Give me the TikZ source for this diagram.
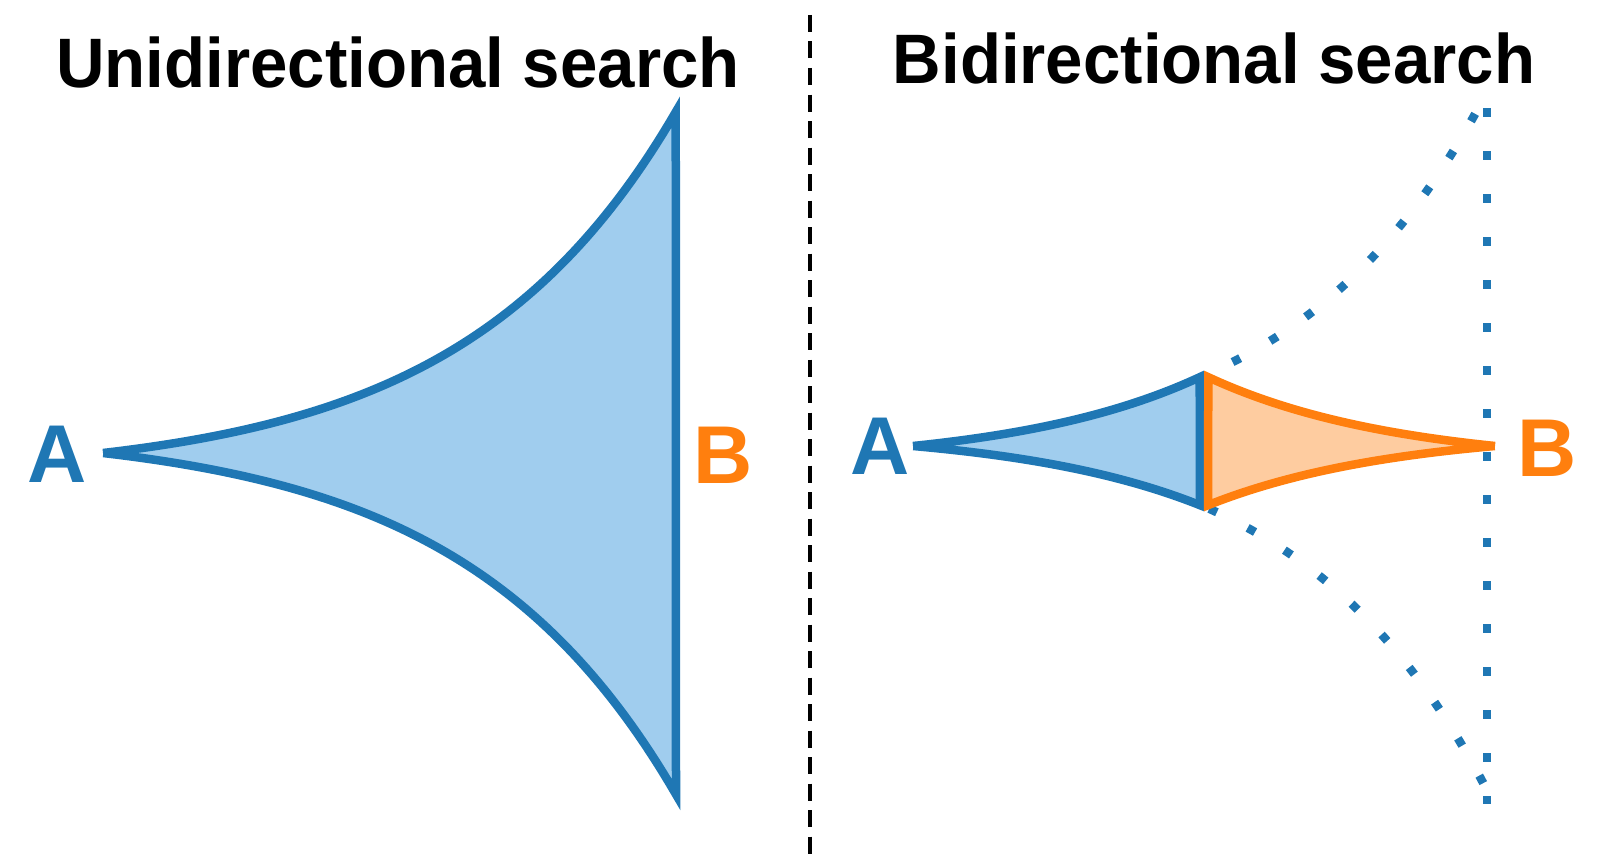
\documentclass[tikz,border=0pt]{standalone}
\usepackage{fontspec}
\setmainfont{Liberation Sans}
\usepackage{graphicx}
\definecolor{tblue}{HTML}{1F77B4}
\definecolor{lblue}{HTML}{A0CDEE}
\definecolor{torange}{HTML}{FF7F0E}
\definecolor{lorange}{HTML}{FECCA0}
\begin{document}
\begin{tikzpicture}[x=1pt,y=-1pt,
  titletext/.style={font=\fontsize{70}{84}\selectfont\bfseries, inner sep=0pt, anchor=base},
  lab/.style={font=\fontsize{82}{98}\selectfont\bfseries, inner sep=0pt, anchor=base},
  edgeline/.style={line width=8.5pt, line join=miter},
  dotline/.style={line width=8.5pt, tblue, dash pattern=on 8.5pt off 34.5pt}]
\useasboundingbox (0,0) rectangle (1600,859);

% divider
\draw[line width=4pt, dash pattern=on 17pt off 9.5pt] (810,15) -- (810,859);

% titles
\node[titletext] (tU) at (398,88) {\scalebox{0.96}[1]{Unidirectional search}};
\node[titletext] (tB) at (1214,84) {\scalebox{0.96}[1]{Bidirectional search}};

% ---------- left: unidirectional ----------
\fill[lblue] plot[domain=0:1,samples=90] ({103+573*\x},{453-24.6*(exp(2.7*\x)-1)})
  -- plot[domain=1:0,samples=90] ({103+573*\x},{453+24.6*(exp(2.7*\x)-1)}) -- cycle;
\draw[edgeline, tblue] plot[domain=0:1,samples=90] ({103+573*\x},{453-24.6*(exp(2.7*\x)-1)})
  -- plot[domain=1:0,samples=90] ({103+573*\x},{453+24.6*(exp(2.7*\x)-1)});

\node[lab, tblue] (lA) at (57.5,482) {A};
\node[lab, torange] (lB) at (723,483) {B};

% ---------- right: bidirectional ----------
% dotted frontier
\draw[dotline] (1487,108) -- (1487,804);
\draw[dotline, dash phase=7pt] plot[domain=0.5:0.985,samples=60] ({913+574*\x},{441-18.3*(exp(3*\x)-1)});
\draw[dotline, dash phase=33pt] plot[domain=0.5:0.997,samples=60] ({913+574*\x},{441+18.3*(exp(3*\x)-1)});

% blue search from A
\fill[lblue] plot[domain=0:0.5,samples=50] ({913+574*\x},{446-19.8*(exp(3*\x)-1)})
  -- plot[domain=0.5:0,samples=50] ({913+574*\x},{446+17*(exp(3*\x)-1)}) -- cycle;
\draw[edgeline, tblue] plot[domain=0:0.5,samples=50] ({913+574*\x},{446-19.8*(exp(3*\x)-1)})
  -- plot[domain=0.5:0,samples=50] ({913+574*\x},{446+17*(exp(3*\x)-1)});

% orange search from B
\fill[lorange] plot[domain=0:0.5,samples=50] ({1495-574*\x},{446-19.8*(exp(3*\x)-1)})
  -- plot[domain=0.5:0,samples=50] ({1495-574*\x},{446+17*(exp(3*\x)-1)}) -- cycle;
\draw[edgeline, torange] plot[domain=0:0.5,samples=50] ({1495-574*\x},{446-19.8*(exp(3*\x)-1)})
  -- plot[domain=0.5:0,samples=50] ({1495-574*\x},{446+17*(exp(3*\x)-1)});

\node[lab, tblue] (rA) at (880,474) {A};
\node[lab, torange] (rB) at (1547,476) {B};
\end{tikzpicture}
\end{document}
